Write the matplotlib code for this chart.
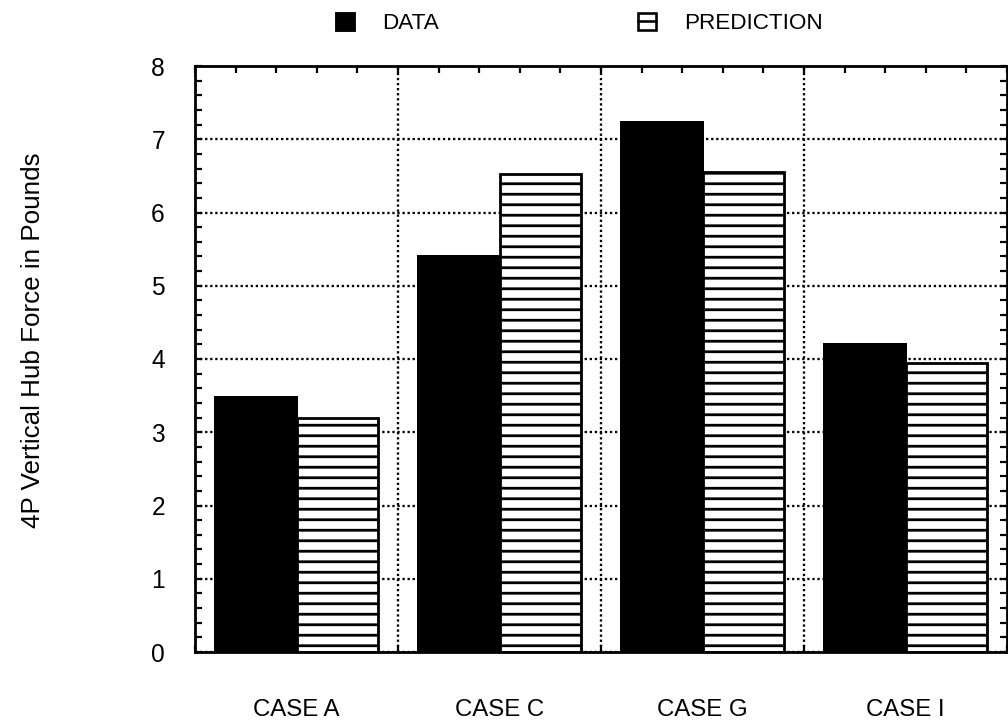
import matplotlib
matplotlib.use("Agg")
import matplotlib.pyplot as plt
from matplotlib.patches import Patch, Rectangle
from matplotlib.lines import Line2D
from matplotlib.ticker import MultipleLocator, FixedLocator

# ---- data -------------------------------------------------------------
cases = ["CASE A", "CASE C", "CASE G", "CASE I"]
measured = [3.48, 5.40, 7.24, 4.20]
predicted = [3.19, 6.53, 6.55, 3.94]
y_ticks = [0, 1, 2, 3, 4, 5, 6, 7, 8]
series_names = ["DATA", "PREDICTION"]
y_title = "4P Vertical Hub Force in Pounds"

DPI = 63
PX = 72.0 / DPI  # points per pixel

plt.rcParams["font.family"] = ["Liberation Sans", "DejaVu Sans"]
plt.rcParams["hatch.linewidth"] = 2.8 * PX
plt.rcParams["hatch.color"] = "black"

fig = plt.figure(figsize=(1008 / DPI, 723 / DPI), dpi=DPI)
ax = fig.add_axes([195 / 1008, 1 - 652 / 723, (1007 - 195) / 1008, (652 - 66) / 723])

centers = [i + 0.5 for i in range(len(cases))]
bw = 0.4
ax.bar([c - bw / 2 for c in centers], measured, width=bw, color="black",
       edgecolor="black", linewidth=2.0 * PX, zorder=2)
ax.bar([c + bw / 2 for c in centers], predicted, width=bw, facecolor="white",
       edgecolor="black", hatch="-", linewidth=2.8 * PX, zorder=2)

ax.set_xlim(0, len(cases))
ax.set_ylim(y_ticks[0], y_ticks[-1])

# y axis: labelled integers, minor ticks every 0.2
ax.yaxis.set_major_locator(FixedLocator(y_ticks))
ax.yaxis.set_minor_locator(MultipleLocator(0.2))
ax.set_yticklabels([str(v) for v in y_ticks])

# x axis: minor ticks every 0.2, no labels on the axis itself
ax.xaxis.set_major_locator(FixedLocator([]))
ax.xaxis.set_minor_locator(MultipleLocator(0.2))

ax.tick_params(axis="both", which="both", direction="in", top=True, right=True,
               length=7 * PX, width=2.2 * PX, color="black")
ax.tick_params(axis="y", which="major", labelsize=24.5 * PX, pad=30 * PX,
               length=7 * PX)

for s in ax.spines.values():
    s.set_linewidth(2.8 * PX)
    s.set_color("black")

# dotted grid: horizontal at each labelled level, vertical between cases
ax.set_axisbelow(True)
ax.yaxis.grid(True, which="major", linestyle=(0, (1, 1.2)), linewidth=2.3 * PX,
              color="black")
for i in range(1, len(cases)):
    ax.axvline(i, linestyle=(0, (1, 1.2)), linewidth=2.3 * PX, color="black",
               zorder=0.5)

# category names below the axis
trans = ax.get_xaxis_transform()
for c, name in zip(centers, cases):
    ax.text(c, -58 / 586, name, transform=trans, ha="center", va="center",
            fontsize=24 * PX)

fig.text(33 / 1008, 1 - 340 / 723, y_title, rotation=90, ha="center",
         va="center", fontsize=26 * PX)


class BoxLineHandler:
    """Legend key: open square split by one horizontal line."""

    def legend_artist(self, legend, orig_handle, fontsize, handlebox):
        x0, y0 = -handlebox.xdescent, -handlebox.ydescent
        w, h = handlebox.width, handlebox.height
        tr = handlebox.get_transform()
        rect = Rectangle((x0 + 1, y0 + 1), w - 2, h - 2, facecolor="white",
                         edgecolor="black", linewidth=2.6 * PX, transform=tr)
        line = Line2D([x0 + 1, x0 + w - 1], [y0 + h / 2, y0 + h / 2],
                      color="black", linewidth=2.6 * PX, transform=tr)
        handlebox.add_artist(rect)
        handlebox.add_artist(line)
        return rect


h_data = Patch(facecolor="black", edgecolor="black")
h_pred = Patch(facecolor="white", edgecolor="black")
fs_px = 22.5
fig.legend([h_data, h_pred], series_names, loc="center left",
           bbox_to_anchor=(335 / 1008, 1 - 23 / 723), ncol=2, frameon=False,
           fontsize=fs_px * PX, handlelength=20 / fs_px, handleheight=20 / fs_px,
           handletextpad=27 / fs_px, columnspacing=198 / fs_px, borderpad=0,
           borderaxespad=0, handler_map={h_pred: BoxLineHandler()})

fig.savefig("out.png", dpi=DPI)
